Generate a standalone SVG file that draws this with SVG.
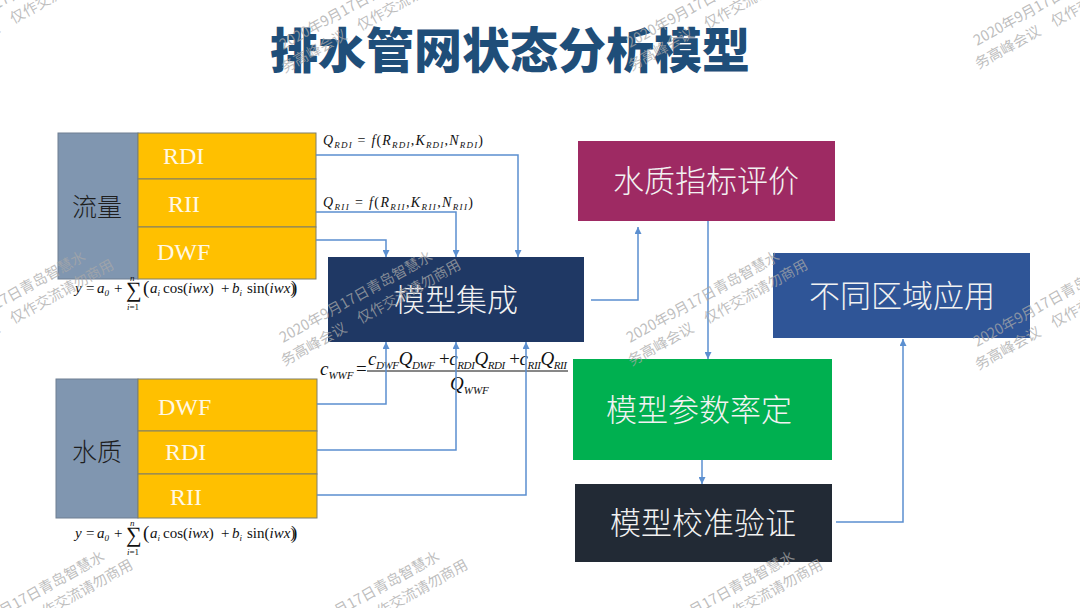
<svg xmlns="http://www.w3.org/2000/svg" xmlns:xlink="http://www.w3.org/1999/xlink" width="1080" height="608" viewBox="0 0 1080 608">
<style>
.title{font-family:"Noto Sans CJK SC","Liberation Sans",sans-serif;font-weight:900;font-size:48px;fill:#1F4E79}
.nt{font-family:"Noto Sans CJK SC","Liberation Sans",sans-serif;font-weight:300;font-size:31px;fill:#F2F2F2;text-anchor:middle}
.gt{font-family:"Noto Sans CJK SC","Liberation Sans",sans-serif;font-weight:300;font-size:25px;fill:#1E1E1E}
.yt{font-family:"Liberation Serif",serif;font-size:24px;fill:#FFF8E6}
.grey{fill:#8096B0;stroke:#6F7F92;stroke-width:1}
.yel{fill:#FFC000;stroke:#7F7F6A;stroke-width:1}
.m{font-family:"Liberation Serif","DejaVu Serif",serif;font-style:italic;fill:#111}
.u{font-style:normal}
.con{fill:none;stroke:#5B8FD0;stroke-width:1.5}
.wm{font-family:"Noto Sans CJK SC",sans-serif;font-size:14.5px;fill:#A8A8A8;fill-opacity:0.75}
</style>
<defs>
<marker id="ah" viewBox="0 0 10 10" refX="10" refY="5" markerWidth="7" markerHeight="7" markerUnits="userSpaceOnUse" orient="auto">
<path d="M0,0 L10,5 L0,10 z" fill="#5B8FD0"/>
</marker>
<g id="wm" class="wm">
<text x="0" y="0">2020年9月17日青岛智慧水</text>
<text x="-10" y="21">务高峰会议　仅作交流请勿商用</text>
</g>
<g id="yf">
<text class="m" y="293" font-size="15"><tspan x="75">y</tspan><tspan class="u" x="86">=</tspan><tspan x="97">a</tspan><tspan font-size="9" dy="3">0</tspan><tspan class="u" x="114" dy="-3">+</tspan></text>
<text x="126" y="297" font-family="Liberation Serif,DejaVu Serif,serif" font-size="22" fill="#111">∑</text>
<text class="m" x="130" y="281" font-size="9">n</text>
<text class="m" x="127" y="310" font-size="9">i<tspan class="u">=1</tspan></text>
<text class="m" y="293" font-size="15"><tspan class="u" x="143" font-size="19" dy="1">(</tspan><tspan x="150" dy="-1">a</tspan><tspan font-size="9" dy="3">i</tspan><tspan class="u" x="163" dy="-3">cos(</tspan><tspan>iwx</tspan><tspan class="u">)</tspan><tspan class="u" x="221">+</tspan><tspan x="232">b</tspan><tspan font-size="9" dy="3">i</tspan><tspan class="u" x="247" dy="-3">sin(</tspan><tspan>iwx</tspan><tspan class="u">)</tspan><tspan class="u" x="291" font-size="19" dy="1">)</tspan></text>
</g>
</defs>
<rect width="1080" height="608" fill="#FFFFFF"/>

<text id="title" class="title" x="510" y="68" text-anchor="middle">排水管网状态分析模型</text>

<g id="flow">
<rect class="grey" x="58" y="133" width="80" height="146"/>
<text class="gt" x="72" y="216">流量</text>
<rect class="yel" x="138" y="133" width="178" height="46"/>
<rect class="yel" x="138" y="179" width="178" height="48"/>
<rect class="yel" x="138" y="227" width="178" height="52"/>
<text class="yt" x="163" y="164">RDI</text>
<text class="yt" x="168" y="212">RII</text>
<text class="yt" x="157" y="260">DWF</text>
</g>

<g id="quality">
<rect class="grey" x="56" y="379" width="82" height="139"/>
<text class="gt" x="72" y="461">水质</text>
<rect class="yel" x="138" y="379" width="179" height="52"/>
<rect class="yel" x="138" y="431" width="179" height="43"/>
<rect class="yel" x="138" y="474" width="179" height="44"/>
<text class="yt" x="158" y="415">DWF</text>
<text class="yt" x="165" y="460">RDI</text>
<text class="yt" x="170" y="505">RII</text>
</g>

<g id="integ">
<rect x="328" y="257" width="256" height="85" fill="#1F3864"/>
<text class="nt" x="456" y="311">模型集成</text>
</g>
<g id="wq">
<rect x="578" y="141" width="257" height="80" fill="#9E2A63"/>
<text class="nt" x="706" y="192">水质指标评价</text>
</g>
<g id="apply">
<rect x="773" y="253" width="257" height="85" fill="#2F5597"/>
<text class="nt" x="902" y="307">不同区域应用</text>
</g>
<g id="calib">
<rect x="573" y="359" width="259" height="101" fill="#00B050"/>
<text class="nt" x="699" y="421">模型参数率定</text>
</g>
<g id="verify">
<rect x="575" y="484" width="257" height="78" fill="#222A35"/>
<text class="nt" x="703" y="534">模型校准验证</text>
</g>

<g id="labels">
<text class="m" x="323" y="145" font-size="14" textLength="160" lengthAdjust="spacing">Q<tspan font-size="9" dy="3">RDI</tspan><tspan class="u" dy="-3"> = </tspan>f<tspan class="u">(</tspan>R<tspan font-size="9" dy="3">RDI</tspan><tspan class="u" dy="-3">,</tspan>K<tspan font-size="9" dy="3">RDI</tspan><tspan class="u" dy="-3">,</tspan>N<tspan font-size="9" dy="3">RDI</tspan><tspan class="u" dy="-3">)</tspan></text>
<text class="m" x="323" y="207" font-size="14" textLength="150" lengthAdjust="spacing">Q<tspan font-size="9" dy="3">RII</tspan><tspan class="u" dy="-3"> = </tspan>f<tspan class="u">(</tspan>R<tspan font-size="9" dy="3">RII</tspan><tspan class="u" dy="-3">,</tspan>K<tspan font-size="9" dy="3">RII</tspan><tspan class="u" dy="-3">,</tspan>N<tspan font-size="9" dy="3">RII</tspan><tspan class="u" dy="-3">)</tspan></text>
<use xlink:href="#yf"/>
<use xlink:href="#yf" transform="translate(0,245)"/>
<text class="m" x="320" y="375" font-size="19">c<tspan font-size="11" dy="4">WWF</tspan></text>
<text class="m u" x="356" y="375" font-size="19">=</text>
<text class="m" x="368" y="365" font-size="19" textLength="199" lengthAdjust="spacing">c<tspan font-size="11" dy="4">DWF</tspan><tspan dy="-4">Q</tspan><tspan font-size="11" dy="4">DWF</tspan><tspan class="u" dy="-4"> +</tspan>c<tspan font-size="11" dy="4">RDI</tspan><tspan dy="-4">Q</tspan><tspan font-size="11" dy="4">RDI</tspan><tspan class="u" dy="-4"> +</tspan>c<tspan font-size="11" dy="4">RII</tspan><tspan dy="-4">Q</tspan><tspan font-size="11" dy="4">RII</tspan></text>
<line x1="367" y1="371" x2="568" y2="371" stroke="#111" stroke-width="1"/>
<text class="m" x="450" y="390" font-size="19">Q<tspan font-size="11" dy="4">WWF</tspan></text>
</g>

<g id="connectors">
<path class="con" d="M316,155 H518 V257" marker-end="url(#ah)"/>
<path class="con" d="M316,212 H456 V257" marker-end="url(#ah)"/>
<path class="con" d="M316,240 H386 V257" marker-end="url(#ah)"/>
<path class="con" d="M317,404 H386 V342" marker-end="url(#ah)"/>
<path class="con" d="M317,450 H456 V342" marker-end="url(#ah)"/>
<path class="con" d="M317,495 H526 V342" marker-end="url(#ah)"/>
<path class="con" d="M591,300 H638 V227" marker-end="url(#ah)"/>
<path class="con" d="M708,221 V359" marker-end="url(#ah)"/>
<path class="con" d="M702,460 V484" marker-end="url(#ah)"/>
<path class="con" d="M836,522 H903 V339" marker-end="url(#ah)"/>
</g>

<g id="watermarks">
<use xlink:href="#wm" transform="translate(-64,43) rotate(-29)"/>
<use xlink:href="#wm" transform="translate(283,50) rotate(-29)"/>
<use xlink:href="#wm" transform="translate(630,48) rotate(-29)"/>
<use xlink:href="#wm" transform="translate(977,46) rotate(-29)"/>
<use xlink:href="#wm" transform="translate(-64,343) rotate(-29)"/>
<use xlink:href="#wm" transform="translate(283,343) rotate(-29)"/>
<use xlink:href="#wm" transform="translate(630,343) rotate(-29)"/>
<use xlink:href="#wm" transform="translate(977,347) rotate(-29)"/>
<use xlink:href="#wm" transform="translate(-45,643) rotate(-29)"/>
<use xlink:href="#wm" transform="translate(290,643) rotate(-29)"/>
<use xlink:href="#wm" transform="translate(645,643) rotate(-29)"/>
</g>
</svg>
